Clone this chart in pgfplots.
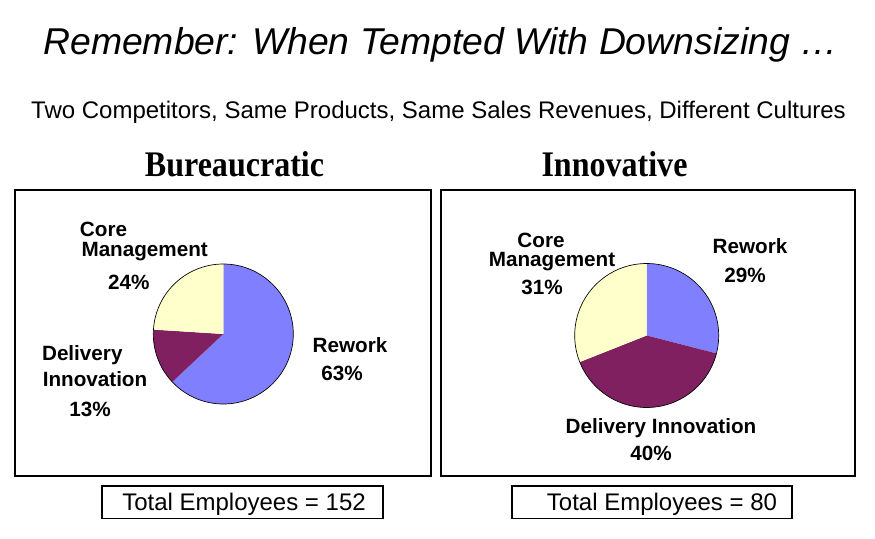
\documentclass[border=0pt]{standalone}
\usepackage{fontspec}
\setmainfont{Liberation Sans}
\newfontfamily\headfont{Liberation Serif}
\usepackage{pgfplots}
\usepackage{pgfplotstable}
\pgfplotsset{compat=1.18}

\definecolor{rework}{RGB}{128,128,255}
\definecolor{delivery}{RGB}{128,32,96}
\definecolor{core}{RGB}{255,255,204}

% share of employees, percent
\pgfplotstableread{
segment   bureaucratic innovative
Rework    63           29
Delivery  13           40
Core      24           31
}\shares

% slice boundaries, clockwise from 12 o'clock
\pgfplotstablegetelem{0}{bureaucratic}\of\shares \pgfmathsetmacro\bA{90-3.6*\pgfplotsretval}
\pgfplotstablegetelem{1}{bureaucratic}\of\shares \pgfmathsetmacro\bB{\bA-3.6*\pgfplotsretval}
\pgfplotstablegetelem{0}{innovative}\of\shares \pgfmathsetmacro\iA{90-3.6*\pgfplotsretval}
\pgfplotstablegetelem{1}{innovative}\of\shares \pgfmathsetmacro\iB{\iA-3.6*\pgfplotsretval}

\newcommand\fs[1]{\fontsize{#1}{#1}\selectfont}
\newcommand\head[1]{\scalebox{0.89}[1]{\fs{27pt}\headfont\bfseries #1}}

\pgfplotsset{pie/.style={hide axis, x=#1, y=#1, xmin=-1, xmax=1,
  ymin=-1, ymax=1, anchor=origin, clip=false}}

\begin{document}
\begin{tikzpicture}
\begin{scope}[x=0.75pt, y=-0.75pt]
\useasboundingbox (0,0) rectangle (875,539);
\coordinate (cL) at (223.3,334);
\coordinate (cR) at (646.7,335.5);

\node[anchor=base, inner sep=0, font=\fs{28pt}\itshape] at (440.5,55) {Remember: When Tempted With Downsizing …};
\node[anchor=base, inner sep=0, font=\fs{18pt}] at (438.5,118) {Two Competitors, Same Products, Same Sales Revenues, Different Cultures};
\node[anchor=base, inner sep=0] at (234.5,176.5) {\head{Bureaucratic}};
\node[anchor=base, inner sep=0] at (614.5,176.5) {\head{Innovative}};

\draw[line width=1pt] (15,190) rectangle (431,476);
\draw[line width=1pt] (441,190) rectangle (855,476);
\draw[line width=0.8pt] (102,486) rectangle (383,518.5);
\draw[line width=0.8pt] (512,486) rectangle (792,518.5);
\node[anchor=base, inner sep=0, font=\fs{18pt}] at (244,510.5) {Total Employees = 152};
\node[anchor=base, inner sep=0, font=\fs{18pt}] at (662,510.5) {Total Employees = 80};

\begin{scope}[every node/.style={anchor=base, inner sep=0, font=\fs{15.5pt}\bfseries}]
\node at (103.5,236) {Core};
\node at (144.7,256) {Management};
\node at (128.7,289) {24\%};
\node at (82.3,360) {Delivery};
\node at (95,386) {Innovation};
\node at (90,416) {13\%};
\node at (350,352) {Rework};
\node at (342,380) {63\%};
\node at (541,247) {Core};
\node at (552,266) {Management};
\node at (542,294) {31\%};
\node at (750,253) {Rework};
\node at (745,282) {29\%};
\node at (661,433) {Delivery Innovation};
\node at (651,460) {40\%};
\end{scope}
\end{scope}

\begin{axis}[pie=52.5pt, at={(cL)}]
\fill[rework] (axis cs:0,0) -- (axis cs:0,1) arc[start angle=90, end angle=\bA, radius=52.5pt] -- cycle;
\fill[delivery] (axis cs:0,0) -- (axis cs:{cos(\bA)},{sin(\bA)}) arc[start angle=\bA, end angle=\bB, radius=52.5pt] -- cycle;
\fill[core] (axis cs:0,0) -- (axis cs:{cos(\bB)},{sin(\bB)}) arc[start angle=\bB, end angle=-270, radius=52.5pt] -- cycle;
\draw[line width=0.5pt] (axis cs:0,0) circle[radius=52.5pt];
\end{axis}

\begin{axis}[pie=54pt, at={(cR)}]
\fill[rework] (axis cs:0,0) -- (axis cs:0,1) arc[start angle=90, end angle=\iA, radius=54pt] -- cycle;
\fill[delivery] (axis cs:0,0) -- (axis cs:{cos(\iA)},{sin(\iA)}) arc[start angle=\iA, end angle=\iB, radius=54pt] -- cycle;
\fill[core] (axis cs:0,0) -- (axis cs:{cos(\iB)},{sin(\iB)}) arc[start angle=\iB, end angle=-270, radius=54pt] -- cycle;
\draw[line width=0.5pt] (axis cs:0,0) circle[radius=54pt];
\end{axis}
\end{tikzpicture}
\end{document}
